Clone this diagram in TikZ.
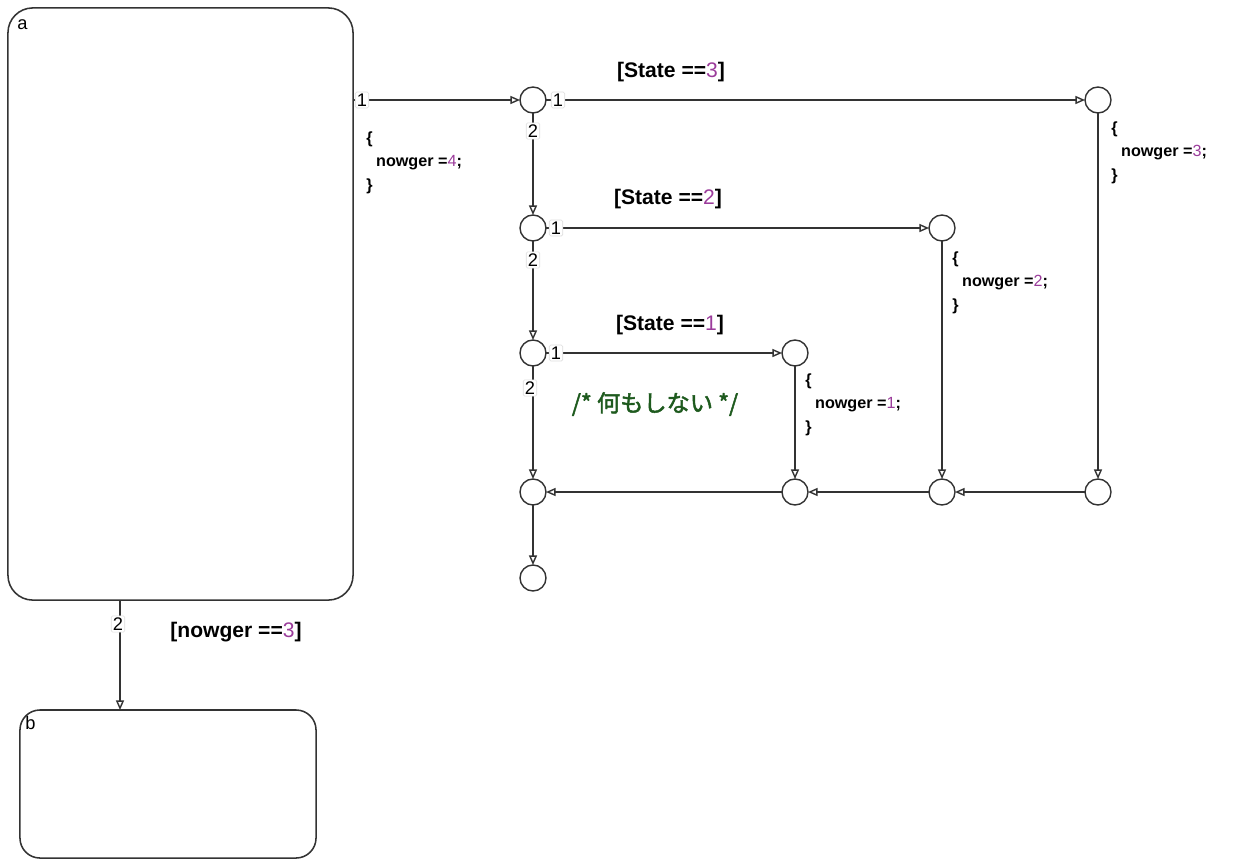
\documentclass[tikz,border=0pt]{standalone}
\usepackage{fontspec}
\setmainfont{Liberation Sans}
\newfontfamily\jpfont{Noto Sans CJK JP}[AutoFakeBold=2]
\usetikzlibrary{arrows.meta,positioning}
\definecolor{ink}{HTML}{333333}
\definecolor{numpurple}{HTML}{9B3C9B}
\definecolor{cmtgreen}{HTML}{1E5A1E}
\definecolor{prioedge}{HTML}{DDDDDD}
\newcommand{\pnum}[1]{\textcolor{numpurple}{\mdseries #1}}
\tikzset{
  chartstate/.style={draw=ink,line width=1.1pt,inner sep=0pt,outer sep=0pt},
  statelbl/.style={font=\fontsize{13}{14}\selectfont,inner sep=0pt,anchor=north west},
  junc/.style={circle,draw=ink,line width=1pt,fill=white,
               minimum size=0.65cm,inner sep=0pt,outer sep=0pt},
  trans/.style={-{Triangle[open,length=2.4mm,width=2mm]},draw=ink,line width=1pt},
  prio/.style={fill=white,draw=prioedge,rounded corners=1pt,inner sep=1.2pt,
               font=\fontsize{13}{14}\selectfont},
  cond/.style={font=\fontsize{15}{17}\selectfont\bfseries,inner sep=0pt},
  act/.style={align=left,anchor=north west,inner sep=0pt,
              font=\fontsize{11.5}{17}\selectfont\bfseries},
  cmt/.style={font=\fontsize{16.5}{18}\selectfont\bfseries\jpfont,text=cmtgreen,inner sep=0pt}
}

\begin{document}
\begin{tikzpicture}[x=0.025cm,y=-0.025cm]
  \useasboundingbox (0,0) rectangle (1240,861);

  % states
  \node[chartstate,rounded corners=0.62cm,minimum width=8.625cm,minimum height=14.8cm] (a) at (180.5,304) {};
  \node[statelbl] (alabel) at (17,19) {a};
  \node[chartstate,rounded corners=0.5cm,minimum width=7.4cm,minimum height=3.7cm] (b) at (168,784) {};
  \node[statelbl] (blabel) at (25,716) {b};

  % junctions
  \node[junc] (j1) at (533,100) {};
  \node[junc] (j2) at (533,228) {};
  \node[junc] (j3) at (533,353) {};
  \node[junc] (j4) at (533,492) {};
  \node[junc] (j5) at (533,578) {};
  \node[junc] (r3) at (1098,100) {};
  \node[junc] (r2) at (942,228) {};
  \node[junc] (r1) at (795,353) {};
  \node[junc] (m3) at (1098,492) {};
  \node[junc] (m2) at (942,492) {};
  \node[junc] (m1) at (795,492) {};
  \coordinate (abx) at (120,0);

  % transitions
  \draw[trans] (a.east |- j1) -- (j1);
  \draw[trans] (j1) -- (r3);
  \draw[trans] (j1) -- (j2);
  \draw[trans] (j2) -- (r2);
  \draw[trans] (j2) -- (j3);
  \draw[trans] (j3) -- (r1);
  \draw[trans] (j3) -- (j4);
  \draw[trans] (r3) -- (m3);
  \draw[trans] (r2) -- (m2);
  \draw[trans] (r1) -- (m1);
  \draw[trans] (m3) -- (m2);
  \draw[trans] (m2) -- (m1);
  \draw[trans] (m1) -- (j4);
  \draw[trans] (j4) -- (j5);
  \draw[trans] (a.south -| abx) -- (b.north -| abx);

  % execution order
  \node[prio] (pa1) at (362,100) {1};
  \node[prio] (p11) at (558,100) {1};
  \node[prio] (p12) at (533,131) {2};
  \node[prio] (p21) at (556,228) {1};
  \node[prio] (p22) at (533,260) {2};
  \node[prio] (p31) at (556,353) {1};
  \node[prio] (p32) at (530,388) {2};
  \node[prio] (pab) at (118,624) {2};

  % conditions and actions
  \node[cond] (c3) at (671,72) {[State ==\pnum{3}]};
  \node[cond] (c2) at (668,199) {[State ==\pnum{2}]};
  \node[cond] (c1) at (670,325) {[State ==\pnum{1}]};
  \node[cond] (cab) at (236,632) {[nowger ==\pnum{3}]};
  \node[act] (act4) at (366,131) {\{\\\hspace{7pt}nowger =\pnum{4};\\\}};
  \node[act] (act3) at (1111,121) {\{\\\hspace{7pt}nowger =\pnum{3};\\\}};
  \node[act] (act2) at (952,251) {\{\\\hspace{7pt}nowger =\pnum{2};\\\}};
  \node[act] (act1) at (805,373) {\{\\\hspace{7pt}nowger =\pnum{1};\\\}};
  \node[cmt] (nop) at (655,404) {/* 何もしない */};
\end{tikzpicture}
\end{document}
